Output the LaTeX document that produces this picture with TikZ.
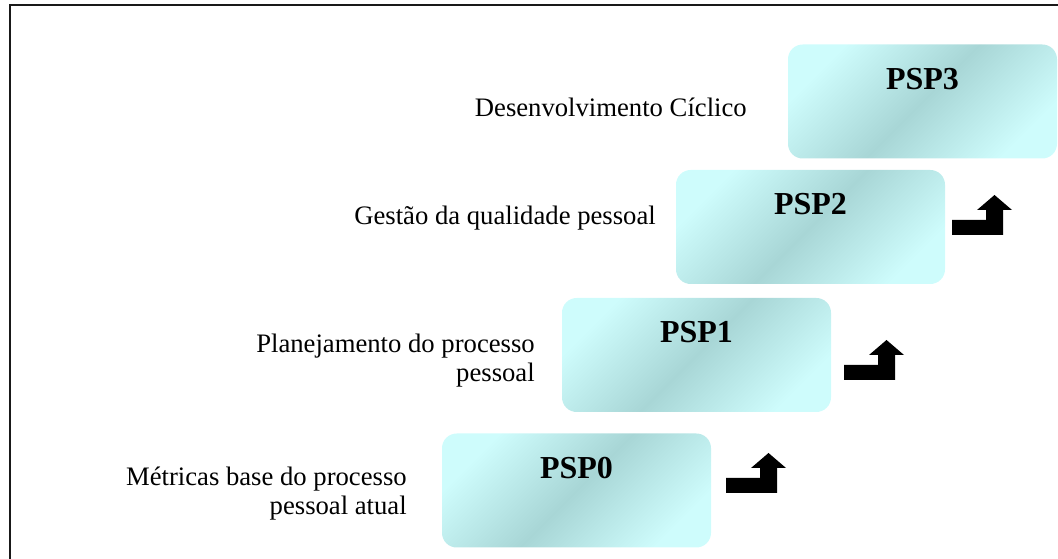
\documentclass[tikz,border=0pt]{standalone}
\usepackage{fontspec}
\setmainfont{Liberation Serif}
\usetikzlibrary{positioning}
\definecolor{psplight}{RGB}{206,252,252}
\definecolor{pspdark}{RGB}{168,214,214}

\begin{document}
\begin{tikzpicture}
  [x=0.75pt, y=-0.75pt,
   pspbox/.style={shape=rectangle, rounded corners=11pt, inner xsep=0pt, inner ysep=0pt,
     minimum width=201.75pt, text height=33.75pt, text depth=51.75pt,
     top color=psplight, bottom color=psplight, middle color=pspdark, shading angle=45,
     font=\bfseries\fontsize{24}{28}\selectfont},
   steplabel/.style={anchor=base east, inner sep=0pt, align=right,
     font=\fontsize{20}{21.75}\selectfont}]
  \useasboundingbox (0,0) rectangle (1058,559);
  \draw[line width=1.6pt, black!90] (10,559) -- (10,5) -- (1058,5);

  \node[pspbox] (psp0) at (576.5,490.5) {PSP0};
  \node[pspbox] (psp1) at (696.5,355) {PSP1};
  \node[pspbox] (psp2) at (810.5,227) {PSP2};
  \node[pspbox] (psp3) at (922.5,101.5) {PSP3};

  \node[steplabel] (lbl0) at (407,515) {Métricas base do processo\\pessoal atual};
  \node[steplabel] (lbl1) at (535,382) {Planejamento do processo\\pessoal};
  \node[steplabel] (lbl2) at (656,225) {Gestão da qualidade pessoal};
  \node[steplabel] (lbl3) at (747,117) {Desenvolvimento Cíclico};

  % step arrows
  \foreach \ax/\ay in {726/453, 844/340, 952/195}
    \fill[shift={(\ax,\ay)}] (0,25) -- (34,25) -- (34,15) -- (25,15) -- (42.5,0)
      -- (60,15) -- (51,15) -- (51,40) -- (0,40) -- cycle;
\end{tikzpicture}
\end{document}
